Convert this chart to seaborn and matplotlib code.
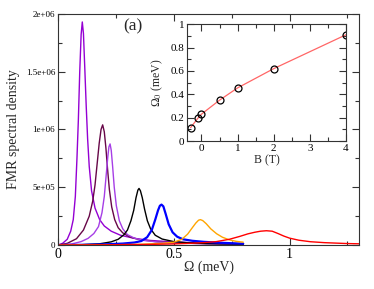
import matplotlib

matplotlib.use("Agg")
import matplotlib.pyplot as plt
import pandas as pd
import seaborn as sns
from matplotlib.ticker import FixedLocator, MultipleLocator

# Spectra (Omega in meV, density in units of 1e6)
omega_m03 = [0, 0.02, 0.04, 0.055, 0.066, 0.075, 0.082, 0.088, 0.094, 0.1, 0.105, 0.11,
             0.116, 0.122, 0.128, 0.135, 0.145, 0.16, 0.18, 0.2, 0.23, 0.27, 0.33, 0.4,
             0.5, 0.6, 0.7, 0.8]
dens_m03 = [0, 0.015, 0.05, 0.12, 0.22, 0.42, 0.75, 1.08, 1.50, 1.82, 1.93, 1.83,
            1.52, 1.20, 0.92, 0.68, 0.47, 0.32, 0.22, 0.165, 0.12, 0.085, 0.058, 0.04,
            0.027, 0.019, 0.014, 0.011]

omega_m01 = [0, 0.04, 0.08, 0.11, 0.135, 0.15, 0.16, 0.17, 0.178, 0.186, 0.193, 0.2,
             0.207, 0.214, 0.222, 0.232, 0.245, 0.26, 0.28, 0.31, 0.35, 0.42, 0.5, 0.6,
             0.7, 0.8]
dens_m01 = [0, 0.015, 0.055, 0.13, 0.25, 0.38, 0.52, 0.72, 0.88, 1.0, 1.04, 0.98,
            0.84, 0.66, 0.48, 0.33, 0.22, 0.15, 0.105, 0.07, 0.048, 0.03, 0.02, 0.014,
            0.01, 0.008]

omega_0 = [0, 0.06, 0.1, 0.13, 0.155, 0.175, 0.19, 0.2, 0.208, 0.215, 0.22, 0.225,
           0.23, 0.236, 0.243, 0.252, 0.265, 0.28, 0.3, 0.33, 0.37, 0.43, 0.5, 0.6,
           0.7, 0.8]
dens_0 = [0, 0.01, 0.03, 0.058, 0.1, 0.16, 0.28, 0.42, 0.6, 0.76, 0.85, 0.875,
          0.82, 0.68, 0.5, 0.34, 0.21, 0.14, 0.09, 0.06, 0.04, 0.027, 0.019, 0.013,
          0.01, 0.008]

omega_05 = [0, 0.1, 0.18, 0.23, 0.26, 0.285, 0.3, 0.315, 0.327, 0.337, 0.345, 0.35,
            0.356, 0.364, 0.374, 0.386, 0.4, 0.42, 0.45, 0.5, 0.56, 0.64, 0.72, 0.8]
dens_05 = [0, 0.003, 0.011, 0.028, 0.05, 0.09, 0.13, 0.21, 0.3, 0.41, 0.475, 0.49,
           0.47, 0.41, 0.31, 0.21, 0.14, 0.085, 0.052, 0.03, 0.02, 0.013, 0.01, 0.008]

omega_1 = [0, 0.1, 0.2, 0.28, 0.33, 0.36, 0.385, 0.405, 0.42, 0.432, 0.44, 0.447,
           0.455, 0.465, 0.478, 0.495, 0.515, 0.54, 0.58, 0.63, 0.7, 0.8]
dens_1 = [0, 0.002, 0.006, 0.013, 0.022, 0.035, 0.068, 0.13, 0.22, 0.3, 0.34, 0.35,
          0.335, 0.27, 0.18, 0.11, 0.072, 0.05, 0.037, 0.028, 0.02, 0.012]

omega_2 = [0, 0.2, 0.35, 0.45, 0.5, 0.535, 0.56, 0.58, 0.595, 0.607, 0.615, 0.625,
           0.64, 0.66, 0.685, 0.71, 0.74, 0.77, 0.8]
dens_2 = [0, 0.002, 0.006, 0.015, 0.025, 0.05, 0.095, 0.15, 0.19, 0.215, 0.22, 0.212,
          0.185, 0.14, 0.098, 0.068, 0.045, 0.032, 0.025]

omega_4 = [0, 0.2, 0.4, 0.5, 0.57, 0.63, 0.684, 0.74, 0.785, 0.82, 0.85, 0.875, 0.9,
           0.925, 0.95, 0.975, 1.0, 1.04, 1.09, 1.15, 1.2, 1.25, 1.3]
dens_4 = [0, 0.002, 0.006, 0.01, 0.015, 0.021, 0.03, 0.05, 0.075, 0.097, 0.111, 0.12,
          0.124, 0.12, 0.1, 0.078, 0.06, 0.042, 0.029, 0.021, 0.017, 0.013, 0.011]

# Inset: resonance position vs field
field = [-0.3, -0.1, 0, 0.5, 1, 2, 4]
omega_res = [0.115, 0.195, 0.23, 0.35, 0.455, 0.62, 0.91]

ytick_values = [0, 5e5, 1e6, 1.5e6, 2e6]
ytick_labels = ["0", "5e+05", "1e+06", "1.5e+06", "2e+06"]
xtick_values = [0, 0.5, 1]
xtick_labels = ["0", "0.5", "1"]

SPECTRA = [
    ("-0.3", omega_m03, dens_m03, "#9400d3", 1.0),
    ("-0.1", omega_m01, dens_m01, "#670748", 1.0),
    ("0", omega_0, dens_0, "#a63ee6", 1.0),
    ("0.5", omega_05, dens_05, "black", 1.0),
    ("1", omega_1, dens_1, "#0000ff", 1.6),
    ("2", omega_2, dens_2, "#ffa500", 1.0),
    ("4", omega_4, dens_4, "#ff0000", 1.0),
]

sns.set_style("ticks")
plt.rcParams.update(
    {
        "font.family": ["Liberation Serif", "DejaVu Serif"],
        "mathtext.fontset": "stix",
        "axes.edgecolor": "#333333",
        "axes.linewidth": 0.8,
        "xtick.color": "#333333",
        "ytick.color": "#333333",
        "xtick.labelcolor": "black",
        "ytick.labelcolor": "black",
    }
)

rows = []
for label, omega, dens, _, _ in SPECTRA:
    for o, d in zip(omega, dens):
        rows.append({"B": label, "Omega": o, "Density": d * 1e6})
spectra = pd.DataFrame(rows)

figure = plt.figure(figsize=(3.74, 2.89), dpi=100)
ax = figure.add_axes([0.155, 0.152, 0.805, 0.8])

for label, _, _, color, width in SPECTRA:
    sns.lineplot(
        data=spectra[spectra["B"] == label],
        x="Omega",
        y="Density",
        color=color,
        linewidth=width,
        sort=False,
        estimator=None,
        ax=ax,
    )

ax.set_xlim(0, 1.3)
ax.set_ylim(0, 2e6)
ax.xaxis.set_major_locator(FixedLocator(xtick_values))
ax.set_xticklabels(xtick_labels, fontsize=10)
ax.xaxis.set_minor_locator(MultipleLocator(0.25))
ax.yaxis.set_major_locator(FixedLocator(ytick_values))
ax.set_yticklabels(ytick_labels, fontsize=6.5)
ax.yaxis.set_minor_locator(MultipleLocator(2.5e5))
ax.tick_params(which="both", direction="in", top=True, right=True, width=0.8)
ax.tick_params(which="major", length=5)
ax.tick_params(which="minor", length=3)
ax.tick_params(axis="x", pad=2)
ax.tick_params(axis="y", pad=2)
ax.set_xlabel("Ω (meV)", fontsize=10, labelpad=0)
ax.set_ylabel("FMR spectral density", fontsize=10)
ax.yaxis.set_label_coords(-0.125, 0.5)
ax.text(0.249, 0.948, "(a)", transform=ax.transAxes, fontsize=12.5,
        ha="center", va="center")

inset = figure.add_axes([0.5, 0.512, 0.425, 0.404])
inset_data = pd.DataFrame({"B": field, "Omega0": omega_res})
sns.lineplot(data=inset_data, x="B", y="Omega0", color="#ff6666", linewidth=0.9,
             sort=False, estimator=None, ax=inset)
inset.plot(inset_data["B"], inset_data["Omega0"], linestyle="none", marker="o",
           markersize=5, markerfacecolor="none", markeredgecolor="black",
           markeredgewidth=0.9)
inset.set_xlim(-0.4, 4)
inset.set_ylim(0, 1)
inset.xaxis.set_minor_locator(MultipleLocator(0.5))
inset.yaxis.set_minor_locator(MultipleLocator(0.1))
inset.set_xticks([0, 1, 2, 3, 4])
inset.set_xticklabels(["0", "1", "2", "3", "4"])
inset.set_yticks([0, 0.2, 0.4, 0.6, 0.8, 1])
inset.set_yticklabels(["0", "0.2", "0.4", "0.6", "0.8", "1"])
inset.tick_params(which="both", direction="in", top=True, right=True, width=0.8,
                  labelsize=8, pad=2)
inset.tick_params(which="major", length=5)
inset.tick_params(which="minor", length=3)
inset.set_xlabel("B (T)", fontsize=8.5, labelpad=1)
inset.set_ylabel("Ω$_0$ (meV)", fontsize=8.5)
inset.yaxis.set_label_coords(-0.14, 0.5)

figure.savefig("out.png", dpi=100)
